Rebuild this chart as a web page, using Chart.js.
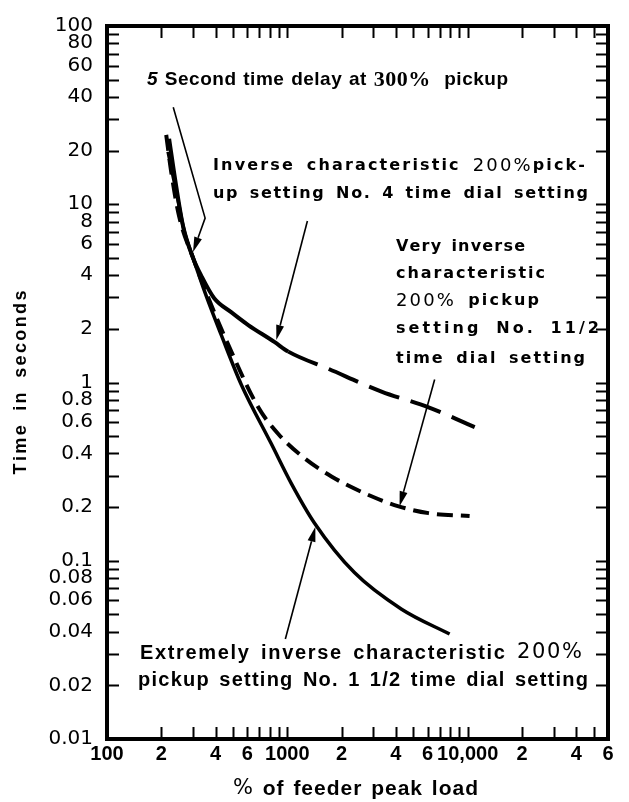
<!DOCTYPE html>
<html><head><meta charset="utf-8">
<script src="https://cdn.jsdelivr.net/npm/chart.js@4.4.1/dist/chart.umd.min.js"></script>
<style>html,body{margin:0;padding:0;background:#fff;}#wrap{width:629px;height:802px;position:relative;}</style>
</head><body><div id="wrap"><canvas id="c" width="629" height="802"></canvas></div>
<script>
// ---- data (percent of feeder peak load vs. time in seconds) ----
const inverseX = [221, 242, 264, 300, 333, 393, 488, 607, 847, 1013, 1700, 3327, 6070, 10940];
const inverseY = [23.3, 12.6, 7.55, 5.0, 3.98, 2.97, 2.48, 2.10, 1.69, 1.49, 1.19, 0.89, 0.726, 0.562];
const veryInverseX = [213, 227, 251, 300, 364, 470, 690, 891, 1197, 1756, 2929, 4140, 6070, 10250];
const veryInverseY = [24.5, 15.2, 8.58, 5.0, 3.0, 1.63, 0.726, 0.514, 0.388, 0.297, 0.23, 0.202, 0.185, 0.178];
const extremelyX = [218, 245, 268, 300, 355, 430, 555, 815, 1053, 1413, 2355, 4300, 7940];
const extremelyY = [19.7, 11.1, 7.08, 5.0, 3.06, 1.85, 0.975, 0.453, 0.271, 0.163, 0.0858, 0.0535, 0.0388];

// ---- tick marks and labels ----
const xTickValues = [100,200,300,400,500,600,700,800,900,1000,2000,3000,4000,5000,6000,7000,8000,9000,10000,20000,30000,40000,50000,60000];
const xTickLabels = ['100','2','','4','','6','','','','1000','2','','4','','6','','','','10,000','2','','4','','6'];
const yTickValues = [0.01,0.02,0.03,0.04,0.05,0.06,0.07,0.08,0.09,0.1,0.2,0.3,0.4,0.5,0.6,0.7,0.8,0.9,1,2,3,4,5,6,7,8,9,10,20,30,40,50,60,70,80,90,100];
const yTickLabels = ['0.01','0.02','','0.04','','0.06','','0.08','','0.1','0.2','','0.4','','0.6','','0.8','','1','2','','4','','6','','8','','10','20','','40','','60','','80','','100'];
const xAxisTitle = ['%', ' of feeder peak load'];
const yAxisTitle = 'Time in seconds';

// ---- annotation leader lines (data coordinates: [percent, seconds]) ----
const leader5s = [[233, 35.0], [350, 8.36], [300, 5.4]];
const leaderInverse = [[1292, 8.05], [869, 1.73]];
const leaderVeryInverse = [[6560, 1.04], [4190, 0.202]];
const leaderExtremely = [[975, 0.0364], [1431, 0.155]];

const toPts = (xs, ys) => xs.map((x, i) => ({x: x, y: ys[i]}));

const B = 'bold 19px "Liberation Sans"';
const B20 = 'bold 20px "Liberation Sans"';
const IB = 'italic bold 19px "Liberation Sans"';
const D = 'bold 16px "DejaVu Sans"';
const GEO = '18px "DejaVu Sans"';
const GEO20 = '21px "DejaVu Sans"';
const SERIF = 'bold 22px "Liberation Serif"';

const annotations = [
  {x:147, y:80, w:361, runs:[['5', IB], [' Second time delay at ', B], ['300%', SERIF], ['  pickup', B]]},
  {x:213, y:166, w:372, runs:[['Inverse characteristic ', D], ['200%', GEO], ['pick-', D]]},
  {x:213, y:194, w:375, runs:[['up setting No. 4 time dial setting', D]]},
  {x:396, y:247, w:129, runs:[['Very inverse', D]]},
  {x:396, y:274, w:149, runs:[['characteristic', D]]},
  {x:396, y:301, w:143, runs:[['200%', GEO], [' pickup', D]]},
  {x:396, y:329, w:203, runs:[['setting No. 11/2', D]]},
  {x:396, y:359, w:189, runs:[['time dial setting', D]]},
  {x:140, y:653, w:442, runs:[['Extremely inverse characteristic ', B20], ['200%', GEO20]]},
  {x:138, y:680, w:450, runs:[['pickup setting No. 1 1/2 time dial setting', B20]]}
];

function fitLine(ctx, runs, x, y, width) {
  const chars = [];
  let natural = 0;
  runs.forEach(([t, f]) => {
    ctx.font = f;
    for (const ch of t) { const w = ctx.measureText(ch).width; chars.push({ch, f, w}); natural += w; }
  });
  const nSpaces = chars.filter(c => c.ch === ' ').length;
  const weight = (chars.length - 1) + 2 * nSpaces;
  const unit = (width - natural) / weight;
  let cx = x;
  chars.forEach(c => {
    ctx.font = c.f;
    ctx.fillText(c.ch, cx, y);
    cx += c.w + unit * (c.ch === ' ' ? 3 : 1);
  });
}

function drawLeader(ctx, xs, ys, pts) {
  const p = pts.map(([a, b]) => [xs.getPixelForValue(a), ys.getPixelForValue(b)]);
  ctx.save();
  ctx.strokeStyle = '#000'; ctx.fillStyle = '#000'; ctx.lineWidth = 1.6;
  const n = p.length;
  const [tx, ty] = p[n - 1], [px, py] = p[n - 2];
  const ang = Math.atan2(ty - py, tx - px);
  const L = 15, W = 4;
  const bx = tx - L * Math.cos(ang), by = ty - L * Math.sin(ang);
  ctx.beginPath();
  ctx.moveTo(p[0][0], p[0][1]);
  for (let i = 1; i < n - 1; i++) ctx.lineTo(p[i][0], p[i][1]);
  ctx.lineTo(bx, by);
  ctx.stroke();
  ctx.beginPath();
  ctx.moveTo(tx, ty);
  ctx.lineTo(bx + W * Math.sin(ang), by - W * Math.cos(ang));
  ctx.lineTo(bx - W * Math.sin(ang), by + W * Math.cos(ang));
  ctx.closePath();
  ctx.fill();
  ctx.restore();
}

const framePlugin = {
  id: 'frame',
  afterDraw(chart) {
    const {ctx, chartArea: a, scales: {x: xs, y: ys}} = chart;
    ctx.save();
    ctx.strokeStyle = '#000';
    ctx.lineWidth = 2;
    ctx.beginPath();
    xTickValues.forEach(v => {
      if (v <= xs.min || v >= xs.max) return;
      const px = Math.round(xs.getPixelForValue(v)) + 0.5;
      ctx.moveTo(px, a.bottom); ctx.lineTo(px, a.bottom - 12);
      ctx.moveTo(px, a.top); ctx.lineTo(px, a.top + 12);
    });
    yTickValues.forEach(v => {
      if (v <= ys.min || v >= ys.max) return;
      const py = Math.round(ys.getPixelForValue(v)) + 0.5;
      ctx.moveTo(a.left, py); ctx.lineTo(a.left + 12, py);
      ctx.moveTo(a.right, py); ctx.lineTo(a.right - 12, py);
    });
    ctx.stroke();
    ctx.lineWidth = 4;
    ctx.strokeRect(a.left, a.top, a.right - a.left, a.bottom - a.top);
    ctx.fillStyle = '#000';
    ctx.textBaseline = 'middle';
    ctx.textAlign = 'left';
    annotations.forEach(an => fitLine(ctx, an.runs, an.x, an.y, an.w));
    // axis titles
    fitLine(ctx, [[xAxisTitle[0], '21px "DejaVu Sans"'], [xAxisTitle[1], 'bold 21px "Liberation Sans"']], 233, 789, 245);
    ctx.save();
    ctx.translate(21, (a.top + a.bottom) / 2 + 92);
    ctx.rotate(-Math.PI / 2);
    fitLine(ctx, [[yAxisTitle, 'bold 18px "Liberation Sans"']], 0, 0, 184);
    ctx.restore();
    ctx.restore();
    [leader5s, leaderInverse, leaderVeryInverse, leaderExtremely].forEach(l => drawLeader(ctx, xs, ys, l));
  }
};

new Chart(document.getElementById('c'), {
  type: 'line',
  data: {
    datasets: [
      {label: 'Inverse characteristic', data: toPts(inverseX, inverseY), borderColor: '#000', borderWidth: 4,
       pointRadius: 0, cubicInterpolationMode: 'monotone', borderCapStyle: 'butt',
       segment: {borderDash: c => (c.p0.parsed.x >= 1000 ? [32, 12] : undefined)}},
      {label: 'Very inverse characteristic', data: toPts(veryInverseX, veryInverseY), borderColor: '#000', borderWidth: 4,
       pointRadius: 0, cubicInterpolationMode: 'monotone', borderDash: [16, 8]},
      {label: 'Extremely inverse characteristic', data: toPts(extremelyX, extremelyY), borderColor: '#000', borderWidth: 3.5,
       pointRadius: 0, cubicInterpolationMode: 'monotone'}
    ]
  },
  options: {
    responsive: false, animation: false, devicePixelRatio: 1,
    layout: {padding: {top: 18, right: 21, left: 0, bottom: 0}},
    plugins: {legend: {display: false}, tooltip: {enabled: false}},
    scales: {
      x: {
        type: 'logarithmic', min: 100, max: 60000,
        grid: {display: false, drawTicks: false}, border: {display: false},
        afterBuildTicks: s => { s.ticks = xTickValues.map(v => ({value: v})); },
        afterFit: s => { s.height = 63; },
        ticks: {autoSkip: false, maxRotation: 0, minRotation: 0, padding: 3, color: '#000',
                font: {family: 'Liberation Sans', size: 20, weight: 'bold'},
                callback: (v, i) => xTickLabels[i]},
        title: {display: false, text: xAxisTitle.join('')}
      },
      y: {
        type: 'logarithmic', min: 0.01, max: 100,
        grid: {display: false, drawTicks: false}, border: {display: false},
        afterBuildTicks: s => { s.ticks = yTickValues.map(v => ({value: v})); },
        afterFit: s => { s.width = 107; },
        ticks: {autoSkip: false, padding: 14, color: '#000',
                font: {family: 'DejaVu Sans', size: 20},
                callback: (v, i) => yTickLabels[i]},
        title: {display: false, text: yAxisTitle}
      }
    }
  },
  plugins: [framePlugin]
});
</script>
</body></html>
